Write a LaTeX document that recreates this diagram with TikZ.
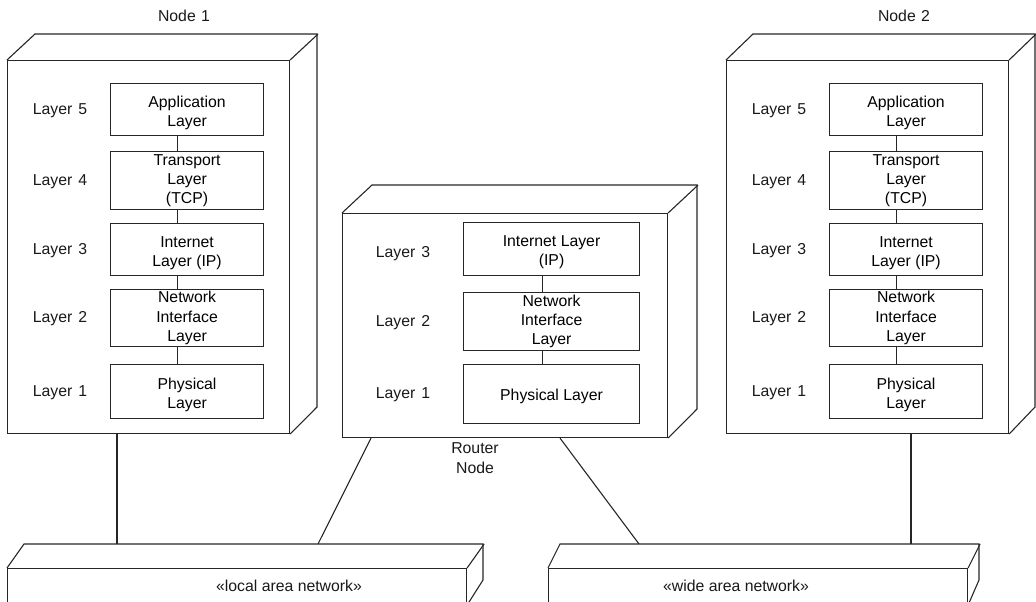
\documentclass[tikz,border=0pt]{standalone}
\usepackage{fontspec}
\setmainfont{Liberation Sans}
\usetikzlibrary{calc}
\newcommand{\tstrut}{\rule{0pt}{17.5pt}}
\begin{document}
\begin{tikzpicture}[x=1pt,y=-1pt,
  ln/.style={line width=1.1pt, draw=black!85},
  face/.style={ln, rectangle, inner sep=0pt, anchor=north west},
  layerbox/.style={ln, rectangle, inner sep=0pt, minimum width=153pt, align=center, anchor=north west},
  lbl/.style={align=center, inner sep=0pt, text=black!90},
  every node/.append style={font=\fontsize{15.8}{19.3}\selectfont}
]
\useasboundingbox (0,0) rectangle (1036,602);

% ---------- Node 1 ----------
\node[face, minimum width=282pt, minimum height=373pt] (n1) at (7,60) {};
\draw[ln] (n1.north west) -- ++(28,-26) -- ++(282,0) -- ++(0,373) -- (n1.south east);
\draw[ln] (n1.north east) -- ++(28,-26);
\node[lbl] (n1t) at (184,16) {Node\ \kern1pt 1};

\node[layerbox, minimum height=52pt] (a5) at (110,83) {\tstrut Application\\Layer};
\node[layerbox, minimum height=58pt] (a4) at (110,151) {Transport\\Layer\\(TCP)};
\node[layerbox, minimum height=52pt] (a3) at (110,223) {\tstrut Internet\\Layer (IP)};
\node[layerbox, minimum height=57pt] (a2) at (110,289) {Network\\Interface\\Layer};
\node[layerbox, minimum height=54pt] (a1) at (110,364) {\tstrut Physical\\Layer};
\foreach \u/\l in {a5/a4,a4/a3,a3/a2,a2/a1}
  \draw[ln] ([xshift=-9.5pt]\u.south) -- ([xshift=-9.5pt]\l.north);
\node[lbl] (al5) at (60,111) {Layer\ \kern1.5pt 5};
\node[lbl] (al4) at (60,182) {Layer\ \kern1.5pt 4};
\node[lbl] (al3) at (60,251) {Layer\ \kern1.5pt 3};
\node[lbl] (al2) at (60,319) {Layer\ \kern1.5pt 2};
\node[lbl] (al1) at (60,393) {Layer\ \kern1.5pt 1};

% ---------- Node 2 ----------
\node[face, minimum width=282pt, minimum height=373pt] (n2) at (726,60) {};
\draw[ln] (n2.north west) -- ++(27,-26) -- ++(282,0) -- ++(0,373) -- (n2.south east);
\draw[ln] (n2.north east) -- ++(27,-26);
\node[lbl] (n2t) at (904,16) {Node\ \kern1pt 2};

\node[layerbox, minimum height=52pt] (b5) at (829,83) {\tstrut Application\\Layer};
\node[layerbox, minimum height=58pt] (b4) at (829,151) {Transport\\Layer\\(TCP)};
\node[layerbox, minimum height=52pt] (b3) at (829,223) {\tstrut Internet\\Layer (IP)};
\node[layerbox, minimum height=57pt] (b2) at (829,289) {Network\\Interface\\Layer};
\node[layerbox, minimum height=54pt] (b1) at (829,364) {\tstrut Physical\\Layer};
\foreach \u/\l in {b5/b4,b4/b3,b3/b2,b2/b1}
  \draw[ln] ([xshift=-9.5pt]\u.south) -- ([xshift=-9.5pt]\l.north);
\node[lbl] (bl5) at (779,111) {Layer\ \kern1.5pt 5};
\node[lbl] (bl4) at (779,182) {Layer\ \kern1.5pt 4};
\node[lbl] (bl3) at (779,251) {Layer\ \kern1.5pt 3};
\node[lbl] (bl2) at (779,319) {Layer\ \kern1.5pt 2};
\node[lbl] (bl1) at (779,393) {Layer\ \kern1.5pt 1};

% ---------- Router ----------
\node[face, minimum width=325pt, minimum height=224pt] (r) at (342,213) {};
\draw[ln] (r.north west) -- ++(30,-28) -- ++(325,0) -- ++(0,224) -- (r.south east);
\draw[ln] (r.north east) -- ++(30,-28);
\node[lbl] (rt) at (475,458) {Router\\Node};

\node[layerbox, minimum width=176pt, minimum height=53pt] (c3) at (463,222) {\tstrut Internet Layer\\(IP)};
\node[layerbox, minimum width=176pt, minimum height=58pt] (c2) at (463,292) {Network\\Interface\\Layer};
\node[layerbox, minimum width=176pt, minimum height=59pt] (c1) at (463,364) {\rule{0pt}{15.5pt}Physical Layer};
\foreach \u/\l in {c3/c2,c2/c1}
  \draw[ln] ([xshift=-9pt]\u.south) -- ([xshift=-9pt]\l.north);
\node[lbl] (cl3) at (403,254) {Layer\ \kern1.5pt 3};
\node[lbl] (cl2) at (403,323) {Layer\ \kern1.5pt 2};
\node[lbl] (cl1) at (403,395) {Layer\ \kern1.5pt 1};

% ---------- Networks ----------
\node[face, minimum width=459pt, minimum height=36pt] (lan) at (7,568) {};
\draw[ln] (lan.north west) -- ++(17,-24) -- ++(459,0) -- ++(0,36) -- (lan.south east);
\draw[ln] (lan.north east) -- ++(17,-24);
\node[lbl] (lant) at (289,586) {«local area network»};

\node[face, minimum width=419pt, minimum height=36pt] (wan) at (548,568) {};
\draw[ln] (wan.north west) -- ++(12,-24) -- ++(419,0) -- ++(0,36) -- (wan.south east);
\draw[ln] (wan.north east) -- ++(12,-24);
\node[lbl] (want) at (736,586) {«wide area network»};

% ---------- Links ----------
\draw[ln] ($(n1.south west)+(110,0)$) -- ($(lan.north west)+(110,-24)$);
\draw[ln] ($(r.south west)+(29,0)$) -- ($(lan.north west)+(311,-24)$);
\draw[ln] ($(r.south west)+(218,0)$) -- ($(wan.north west)+(91,-24)$);
\draw[ln] ($(n2.south west)+(185,0)$) -- ($(wan.north west)+(363,-24)$);
\end{tikzpicture}
\end{document}
